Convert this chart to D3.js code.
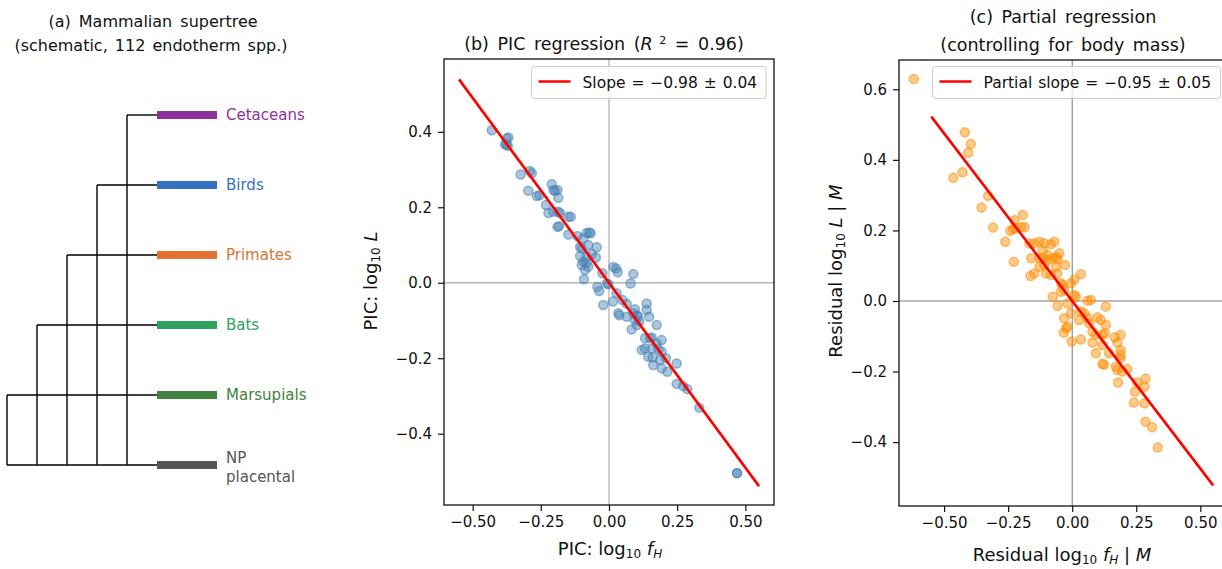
<!DOCTYPE html>
<html>
<head>
<meta charset="utf-8">
<script src="https://cdn.jsdelivr.net/npm/d3@7"></script>
<style>
  body { margin: 0; background: #fff; }
  svg text { font-family: "DejaVu Sans", sans-serif; fill: #111; }
</style>
</head>
<body>
<svg id="fig" width="1222" height="569"></svg>
<script>
/* Three panels: schematic supertree, PIC regression, partial regression. */

// ---- panel (a): schematic tree ----
const clades      = ['Cetaceans', 'Birds', 'Primates', 'Bats', 'Marsupials', 'NP placental'];
const cladeColors = ['#8e2f9e', '#3472c0', '#e07232', '#2ea15e', '#418240', '#555555'];
const joinLevel   = [4, 3, 2, 1, 0, 0];          // depth of the node each clade hangs off

// ---- panel (b): phylogenetic independent contrasts [log10 fH, log10 L] ----
const picPoints = [
  [-0.430,0.404],[-0.375,0.382],[-0.369,0.385],[-0.381,0.367],[-0.371,0.363],[-0.376,0.366],
  [-0.324,0.287],[-0.290,0.296],[-0.283,0.290],[-0.296,0.244],[-0.265,0.230],[-0.255,0.232],
  [-0.210,0.261],[-0.204,0.246],[-0.198,0.243],[-0.189,0.246],[-0.186,0.225],[-0.231,0.206],
  [-0.222,0.185],[-0.204,0.188],[-0.186,0.188],[-0.180,0.185],[-0.149,0.175],[-0.140,0.175],
  [-0.189,0.148],[-0.183,0.150],[-0.149,0.128],[-0.116,0.124],[-0.094,0.118],[-0.082,0.132],
  [-0.072,0.133],[-0.067,0.131],[-0.106,0.095],[-0.100,0.091],[-0.076,0.100],[-0.045,0.094],
  [-0.106,0.071],[-0.082,0.069],[-0.063,0.076],[-0.048,0.067],[-0.094,0.056],[-0.082,0.053],
  [-0.100,0.047],[-0.076,0.042],[-0.088,0.034],[-0.092,0.009],[-0.024,0.025],[0.016,0.042],
  [0.026,0.038],[0.032,0.028],[0.089,0.023],[-0.008,-0.002],[-0.002,-0.004],[-0.043,-0.011],
  [-0.036,-0.022],[0.079,-0.002],[-0.021,-0.059],[0.014,-0.050],[0.028,-0.028],[0.050,-0.046],
  [0.065,-0.056],[0.095,-0.070],[0.138,-0.055],[0.138,-0.072],[0.034,-0.081],[0.038,-0.086],
  [0.065,-0.090],[0.089,-0.081],[0.102,-0.086],[0.107,-0.090],[0.095,-0.099],[0.111,-0.103],
  [0.147,-0.090],[0.083,-0.124],[0.102,-0.112],[0.175,-0.112],[0.132,-0.147],[0.150,-0.147],
  [0.157,-0.145],[0.193,-0.152],[0.175,-0.161],[0.120,-0.178],[0.132,-0.174],[0.157,-0.174],
  [0.181,-0.176],[0.193,-0.183],[0.144,-0.196],[0.160,-0.198],[0.187,-0.205],[0.209,-0.200],
  [0.248,-0.214],[0.162,-0.218],[0.193,-0.227],[0.214,-0.236],[0.248,-0.268],[0.272,-0.274],
  [0.287,-0.282],[0.331,-0.331],[0.469,-0.505],[0.470,-0.504]
];
const picFit = { slope: -0.98, intercept: 0, from: -0.55, to: 0.55 };

// ---- panel (c): residuals after removing body mass ----
const partialPoints = [
  [-0.618,0.629],
  [-0.419,0.478],[-0.396,0.445],[-0.406,0.420],[-0.464,0.349],[-0.428,0.365],[-0.328,0.298],
  [-0.354,0.265],[-0.309,0.208],[-0.225,0.229],[-0.193,0.244],[-0.241,0.199],[-0.231,0.203],
  [-0.222,0.206],[-0.199,0.210],[-0.186,0.209],
  [-0.261,0.168],[-0.228,0.111],[-0.167,0.163],[-0.148,0.163],[-0.128,0.168],[-0.109,0.163],
  [-0.083,0.161],[-0.070,0.168],[-0.115,0.144],[-0.096,0.130],[-0.050,0.135],[-0.063,0.125],
  [-0.160,0.121],[-0.128,0.121],[-0.115,0.121],[-0.096,0.116],[-0.076,0.121],[-0.057,0.118],
  [-0.128,0.097],[-0.109,0.102],[-0.063,0.097],[-0.028,0.102],[-0.163,0.071],[-0.148,0.078],
  [-0.102,0.078],[-0.083,0.074],[-0.059,0.078],[-0.044,0.050],[-0.037,0.045],[-0.005,0.050],
  [0.008,0.061],[0.034,0.076],[-0.076,0.012],[-0.044,0.026],[-0.031,0.031],[0.008,0.017],
  [0.014,0.012],[-0.057,-0.014],[-0.018,-0.007],[0.060,0.001],[0.073,0.003],[0.131,-0.016],
  [-0.005,-0.035],[0.034,-0.030],[0.047,-0.035],[0.027,-0.054],[0.060,-0.049],[-0.031,-0.049],
  [0.099,-0.046],[0.111,-0.054],[0.131,-0.068],[-0.018,-0.073],[-0.024,-0.077],[-0.033,-0.090],
  [0.066,-0.063],[0.079,-0.087],[0.092,-0.096],[0.118,-0.096],[0.127,-0.092],[0.166,-0.103],
  [0.189,-0.096],[0.176,-0.118],[0.079,-0.118],[0.034,-0.109],[-0.002,-0.115],[0.092,-0.148],
  [0.144,-0.148],[0.118,-0.125],[0.189,-0.139],[0.189,-0.153],[0.189,-0.162],[0.118,-0.178],
  [0.124,-0.181],[0.170,-0.186],[0.176,-0.195],[0.196,-0.200],[0.215,-0.193],[0.179,-0.231],
  [0.254,-0.231],[0.286,-0.220],[0.282,-0.243],[0.245,-0.257],[0.241,-0.288],[0.282,-0.290],
  [0.286,-0.342],[0.312,-0.358],[0.334,-0.415]
];
const partialFit = { slope: -0.95, intercept: 0, from: -0.55, to: 0.55 };

const xTicks = [-0.5, -0.25, 0, 0.25, 0.5];
const yTicksB = [-0.4, -0.2, 0, 0.2, 0.4];
const yTicksC = [-0.4, -0.2, 0, 0.2, 0.4, 0.6];

const svg = d3.select('#fig');
const minus = s => s.replace('-', '\u2212');

// ===== (a) tree =====
const ga = svg.append('g');
const xLev = d3.scaleLinear().domain([0, 4]).range([7, 127]);
const yLeaf = d3.scalePoint().domain(clades).range([115, 465]);
const TIP = 157, BAR_END = 217;
const lastY = yLeaf(clades[clades.length - 1]);

ga.append('text').attr('x', 153).attr('y', 27).attr('text-anchor', 'middle')
  .style('font-size', '16px').style('word-spacing', '3px').text('(a) Mammalian supertree');
ga.append('text').attr('x', 151).attr('y', 51).attr('text-anchor', 'middle')
  .style('font-size', '16px').style('word-spacing', '2px').text('(schematic, 112 endotherm spp.)');

// verticals: one per internal node, from its top clade down to the bottom clade
d3.range(5).forEach(l => {
  const top = clades[joinLevel.indexOf(l)];
  ga.append('line').attr('x1', xLev(l)).attr('x2', xLev(l))
    .attr('y1', yLeaf(top)).attr('y2', lastY)
    .attr('stroke', '#000').attr('stroke-width', 1.4);
});
// horizontals to each tip, coloured tip bar, label
clades.forEach((c, i) => {
  ga.append('line').attr('x1', xLev(joinLevel[i])).attr('x2', TIP)
    .attr('y1', yLeaf(c)).attr('y2', yLeaf(c))
    .attr('stroke', '#000').attr('stroke-width', 1.4);
  ga.append('line').attr('x1', TIP).attr('x2', BAR_END)
    .attr('y1', yLeaf(c)).attr('y2', yLeaf(c))
    .attr('stroke', cladeColors[i]).attr('stroke-width', 8);
  const words = c === 'NP placental' ? ['NP', 'placental'] : [c];
  const t = ga.append('text').attr('x', 226).style('font-size', '15px')
    .style('fill', cladeColors[i]);
  words.forEach((w, j) => {
    t.append('tspan').attr('x', 226)
      .attr('y', yLeaf(c) + 5 + (words.length > 1 ? -7 + j * 19 : 0)).text(w);
  });
});

// ===== scatter panel helper =====
function panel(o) {
  const g = svg.append('g');
  const x = d3.scaleLinear().domain(o.xDom).range([o.left, o.right]);
  const y = d3.scaleLinear().domain(o.yDom).range([o.bottom, o.top]);
  const clipId = 'clip' + o.id;
  g.append('clipPath').attr('id', clipId).append('rect')
    .attr('x', o.left).attr('y', o.top).attr('width', o.right - o.left).attr('height', o.bottom - o.top);
  const inner = g.append('g').attr('clip-path', `url(#${clipId})`);

  inner.append('line').attr('x1', x(0)).attr('x2', x(0)).attr('y1', o.top).attr('y2', o.bottom)
    .attr('stroke', o.zeroColor).attr('stroke-width', o.zeroWidth);
  inner.append('line').attr('y1', y(0)).attr('y2', y(0)).attr('x1', o.left).attr('x2', o.right)
    .attr('stroke', o.zeroColor).attr('stroke-width', o.zeroWidth);

  inner.append('g').selectAll('circle').data(o.points).join('circle')
    .attr('cx', d => x(d[0])).attr('cy', d => y(d[1])).attr('r', 4.5)
    .attr('fill', o.color).attr('fill-opacity', 0.45)
    .attr('stroke', o.color).attr('stroke-opacity', 0.55).attr('stroke-width', 1.5);

  const f = o.fit;
  inner.append('line')
    .attr('x1', x(f.from)).attr('y1', y(f.intercept + f.slope * f.from))
    .attr('x2', x(f.to)).attr('y2', y(f.intercept + f.slope * f.to))
    .attr('stroke', '#ff0000').attr('stroke-width', 2.6);

  // axes
  const ax = g.append('g').attr('transform', `translate(0,${o.bottom})`)
    .call(d3.axisBottom(x).tickValues(xTicks).tickSize(6).tickPadding(5)
      .tickFormat(d => minus(d3.format('.2f')(d))));
  const ay = g.append('g').attr('transform', `translate(${o.left},0)`)
    .call(d3.axisLeft(y).tickValues(o.yTicks).tickSize(6).tickPadding(6)
      .tickFormat(d => minus(d3.format('.1f')(d))));
  [ax, ay].forEach(a => {
    a.select('.domain').remove();
    a.selectAll('.tick line').attr('stroke', '#111').attr('stroke-width', 1.2);
    a.selectAll('.tick text').style('font-size', '15px').style('font-family', '"DejaVu Sans", sans-serif')
      .attr('fill', '#111');
  });

  g.append('rect').attr('x', o.left).attr('y', o.top)
    .attr('width', o.right - o.left).attr('height', o.bottom - o.top)
    .attr('fill', 'none').attr('stroke', '#111').attr('stroke-width', 1.3);

  // legend
  const lg = g.append('g');
  lg.append('rect').attr('x', o.legend.x).attr('y', 66.5).attr('width', o.legend.w).attr('height', 32)
    .attr('rx', 3).attr('fill', '#fff').attr('fill-opacity', 0.8)
    .attr('stroke', '#cccccc').attr('stroke-width', 1);
  lg.append('line').attr('x1', o.legend.x + 7).attr('x2', o.legend.x + 39)
    .attr('y1', 81.5).attr('y2', 81.5).attr('stroke', '#ff0000').attr('stroke-width', 2.6);
  lg.append('text').attr('x', o.legend.x + 51).attr('y', 87.5).style('font-size', '15.5px')
    .style('word-spacing', '1px').text(o.legend.text);

  return { g, x, y };
}

// ===== (b) =====
const pb = panel({
  id: 'b', left: 444, right: 774, top: 59, bottom: 505,
  xDom: [-0.605, 0.605], yDom: [-0.589, 0.593], yTicks: yTicksB,
  points: picPoints, fit: picFit, color: '#4682b4',
  zeroColor: '#b4b4b4', zeroWidth: 1.3,
  legend: { x: 531.5, w: 234.5, text: 'Slope = \u22120.98 \u00b1 0.04' }
});
const tb = pb.g.append('text').attr('x', 604).attr('y', 50).attr('text-anchor', 'middle')
  .style('font-size', '17.5px').style('word-spacing', '3px');
tb.append('tspan').text('(b) PIC regression (');
tb.append('tspan').style('font-style', 'italic').text('R');
tb.append('tspan').attr('dy', -6).style('font-size', '11px').text(' 2');
tb.append('tspan').attr('dy', 6).text(' = 0.96)');

const xlb = pb.g.append('text').attr('x', 610).attr('y', 555).attr('text-anchor', 'middle')
  .style('font-size', '18px');
xlb.append('tspan').text('PIC:  log');
xlb.append('tspan').attr('dy', 3).style('font-size', '12px').text('10');
xlb.append('tspan').attr('dy', -3).text(' ');
xlb.append('tspan').style('font-style', 'italic').text('f');
xlb.append('tspan').attr('dy', 3).style('font-size', '12px').style('font-style', 'italic').text('H');

const ylb = pb.g.append('text').attr('transform', 'translate(377,281) rotate(-90)')
  .attr('text-anchor', 'middle').style('font-size', '18px');
ylb.append('tspan').text('PIC:  log');
ylb.append('tspan').attr('dy', 3).style('font-size', '12px').text('10');
ylb.append('tspan').attr('dy', -3).text(' ');
ylb.append('tspan').style('font-style', 'italic').text('L');

// ===== (c) =====
const pc = panel({
  id: 'c', left: 899, right: 1228, top: 60, bottom: 506,
  xDom: [-0.676, 0.608], yDom: [-0.581, 0.683], yTicks: yTicksC,
  points: partialPoints, fit: partialFit, color: '#ff8c00',
  zeroColor: '#777777', zeroWidth: 1,
  legend: { x: 932.5, w: 288, text: 'Partial slope = \u22120.95 \u00b1 0.05' }
});
pc.g.append('text').attr('x', 1063).attr('y', 23).attr('text-anchor', 'middle')
  .style('font-size', '17.5px').style('word-spacing', '3px').text('(c) Partial regression');
pc.g.append('text').attr('x', 1063).attr('y', 51).attr('text-anchor', 'middle')
  .style('font-size', '17.5px').style('word-spacing', '3px').text('(controlling for body mass)');

const xlc = pc.g.append('text').attr('x', 1062).attr('y', 561).attr('text-anchor', 'middle')
  .style('font-size', '18px');
xlc.append('tspan').text('Residual log');
xlc.append('tspan').attr('dy', 3).style('font-size', '12px').text('10');
xlc.append('tspan').attr('dy', -3).text(' ');
xlc.append('tspan').style('font-style', 'italic').text('f');
xlc.append('tspan').attr('dy', 3).style('font-size', '12px').style('font-style', 'italic').text('H');
xlc.append('tspan').attr('dy', -3).text(' | ');
xlc.append('tspan').style('font-style', 'italic').text('M');

const ylc = pc.g.append('text').attr('transform', 'translate(842,271) rotate(-90)')
  .attr('text-anchor', 'middle').style('font-size', '18px');
ylc.append('tspan').text('Residual log');
ylc.append('tspan').attr('dy', 3).style('font-size', '12px').text('10');
ylc.append('tspan').attr('dy', -3).text(' ');
ylc.append('tspan').style('font-style', 'italic').text('L');
ylc.append('tspan').text(' | ');
ylc.append('tspan').style('font-style', 'italic').text('M');
</script>
</body>
</html>
